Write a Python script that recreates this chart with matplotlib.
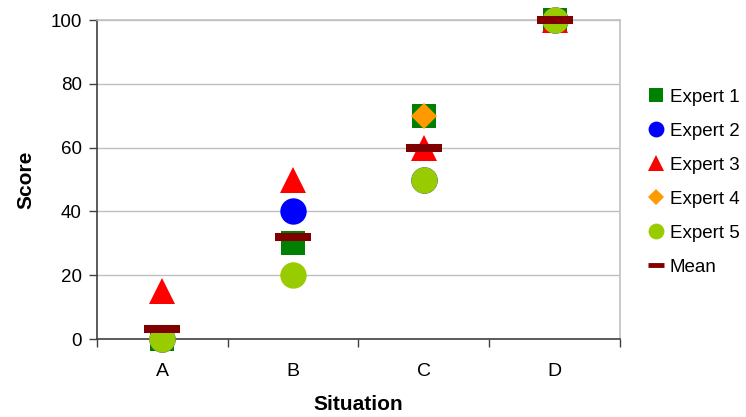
import numpy as np
import matplotlib
matplotlib.use("Agg")
import matplotlib.pyplot as plt
from matplotlib.lines import Line2D

plt.rcParams['font.family'] = ['Liberation Sans', 'DejaVu Sans']

# data
situations = ["A", "B", "C", "D"]
expert1 = [0, 30, 70, 100]
expert2 = [0, 40, 50, 100]
expert3 = [15, 50, 60, 100]
expert4 = [0, 20, 70, 100]
expert5 = [0, 20, 50, 100]
mean = [3, 32, 60, 100]

series = [
    ("Expert 1", expert1, "s", "#008000", 17),
    ("Expert 2", expert2, "o", "#0000FF", 19),
    ("Expert 3", expert3, "^", "#FF0000", 19),
    ("Expert 4", expert4, "D", "#FF9900", 13.3),
    ("Expert 5", expert5, "o", "#99CC00", 19),
]
mean_color = "#800000"

fig = plt.figure(figsize=(7.46, 4.17), dpi=100)
ax = fig.add_axes([0.130, 0.187, 0.701, 0.765])

x = np.arange(len(situations)) + 0.5

handles = []
for name, vals, mk, col, ms in series:
    ax.plot(x, vals, linestyle="none", marker=mk, color=col,
            markersize=ms, markeredgewidth=0, clip_on=False, zorder=3)
    handles.append(Line2D([], [], linestyle="none", marker=mk, color=col,
                          markersize=ms * 0.6, markeredgewidth=0, label=name))
ax.plot(x, mean, linestyle="none", marker="_", color=mean_color,
        markersize=26.6, markeredgewidth=5.8, clip_on=False, zorder=4)
handles.append(Line2D([], [], linestyle="none", marker="_", color=mean_color,
                      markersize=11, markeredgewidth=3.5, label="Mean"))

ax.set_xlim(0, 4)
ax.set_ylim(0, 100)
ax.set_yticks([0, 20, 40, 60, 80, 100])
ax.set_xticks([0, 1, 2, 3, 4])
ax.set_xticklabels([])
ax.set_xticks(x, minor=True)
ax.set_xticklabels(situations, minor=True)
ax.tick_params(axis="x", which="minor", length=0, pad=17, labelsize=14)
ax.tick_params(axis="x", which="major", length=6, width=1, color="#404040")
ax.tick_params(axis="y", length=6, width=1, color="#404040", labelsize=13.5, pad=5)

ax.grid(axis="y", color="#c0c0c0", linewidth=1)
ax.set_axisbelow(True)
for s in ["top", "right"]:
    ax.spines[s].set_color("#c0c0c0")
    ax.spines[s].set_linewidth(1.2)
for s in ["left", "bottom"]:
    ax.spines[s].set_color("#404040")
    ax.spines[s].set_linewidth(1.2)

ax.set_xlabel("Situation", fontsize=15, fontweight="bold", labelpad=11)
ax.set_ylabel("Score", fontsize=15, fontweight="bold", labelpad=11)

fig.legend(handles=handles, loc="upper left", bbox_to_anchor=(0.855, 0.81),
           frameon=False, fontsize=13.5, handlelength=0.9,
           handletextpad=0.3, labelspacing=0.9, borderpad=0)

fig.savefig("out.png", dpi=100)
